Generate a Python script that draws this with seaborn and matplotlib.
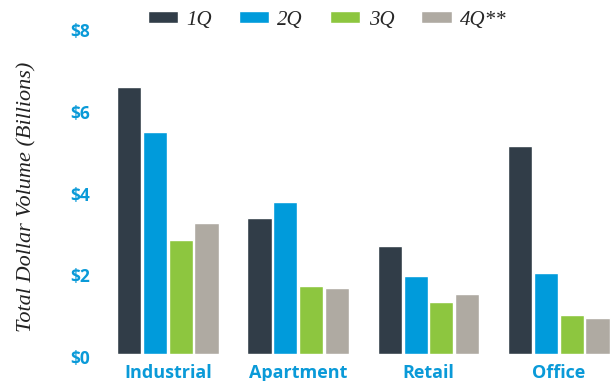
import matplotlib
matplotlib.use("Agg")
import matplotlib.pyplot as plt
import matplotlib.transforms as mtransforms
import seaborn as sns
import pandas as pd

categories = ["Industrial", "Apartment", "Retail", "Office"]
quarters = ["1Q", "2Q", "3Q", "4Q**"]
q1 = [6.53, 3.33, 2.64, 5.09]
q2 = [5.43, 3.72, 1.91, 1.98]
q3 = [2.79, 1.66, 1.27, 0.95]
q4 = [3.20, 1.61, 1.47, 0.88]
yticks = [0, 2, 4, 6, 8]
ytick_labels = ["$0", "$2", "$4", "$6", "$8"]

colors = ["#313d48", "#009bdb", "#8dc63f", "#afaaa2"]
blue = "#0a9ad8"

rows = []
for qname, vals in zip(quarters, [q1, q2, q3, q4]):
    for c, v in zip(categories, vals):
        rows.append({"Category": c, "Quarter": qname, "Value": v})
df = pd.DataFrame(rows)

sns.set_theme(style="white")
fig = plt.figure(figsize=(6.11, 3.81), dpi=100)
ax = fig.add_axes([100/611, 27/381, 511/611, 327/381])

sns.barplot(data=df, x="Category", y="Value", hue="Quarter", order=categories,
            hue_order=quarters, palette=colors, saturation=1, width=0.79, gap=0.06,
            ax=ax, legend=True)

ax.set_xlim(-0.52, 3.4)
ax.set_ylim(0, 8)
ax.set_yticks(yticks)
ax.set_yticklabels(ytick_labels, fontfamily="Open Sans", fontweight="bold",
                   fontsize=12.5, color=blue)
ax.set_xticks(range(len(categories)))
ax.set_xticklabels(categories, fontfamily="Open Sans", fontweight="bold",
                   fontsize=13, color=blue)
ax.tick_params(axis="y", length=0, pad=7)
ax.tick_params(axis="x", length=0, pad=7)
off = mtransforms.ScaledTranslation(0, -3/100, fig.dpi_scale_trans)
for lab in ax.get_yticklabels():
    lab.set_transform(lab.get_transform() + off)
for s in ax.spines.values():
    s.set_visible(False)
ax.set_xlabel("")
ax.set_ylabel("Total Dollar Volume (Billions)", fontfamily="Liberation Serif",
              fontstyle="italic", fontsize=16, color="#222222")
ax.yaxis.set_label_coords(36/611, (381 - 197)/381, transform=fig.transFigure)
ax.grid(False)

handles, labels = ax.get_legend_handles_labels()
ax.legend(handles, labels, ncol=4, loc="center",
          bbox_to_anchor=(327/611, (381-20)/381), bbox_transform=fig.transFigure,
          frameon=False,
          prop={"family": "Liberation Serif", "style": "italic", "size": 15},
          handlelength=1.45, handleheight=0.5, handletextpad=0.4, columnspacing=1.3)

fig.savefig("out.png", dpi=100)
